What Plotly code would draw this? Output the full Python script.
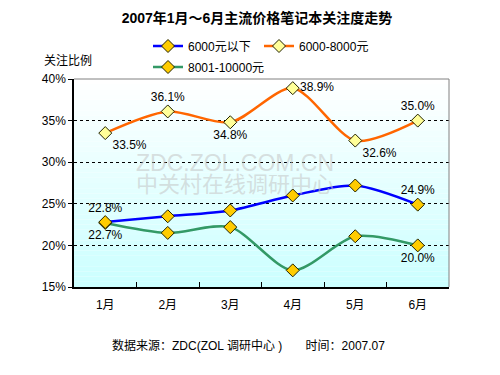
import plotly.graph_objects as go

months = ["1月", "2月", "3月", "4月", "5月", "6月"]
s_low = [22.8, 23.5, 24.2, 26.0, 27.2, 24.9]
s_mid = [33.5, 36.1, 34.8, 38.9, 32.6, 35.0]
s_high = [22.7, 21.5, 22.2, 17.0, 21.1, 20.0]
name_low = "6000元以下"
name_mid = "6000-8000元"
name_high = "8001-10000元"

lab_low = ["22.8%", "", "", "", "", "24.9%"]
pos_low = ["top center"] * 6
lab_mid = [f"{v:.1f}%" for v in s_mid]
pos_mid = ["bottom right", "top center", "bottom center", "middle right", "bottom right", "top center"]
lab_high = ["22.7%", "", "", "", "", "20.0%"]
pos_high = ["bottom center"] * 6

FONT = "Arial, 'Noto Sans CJK SC', sans-serif"
OFF = 8  # page body margin in the browser
W, H = 500, 375

fig = go.Figure()

def add(y, name, color, mfill, labels, pos, legend):
    fig.add_trace(go.Scatter(
        x=months, y=y, name=name, mode="lines+markers+text",
        line=dict(color=color, width=2.5, shape="spline", smoothing=0.8),
        marker=dict(symbol="diamond", size=10, color=mfill, line=dict(color="#222200", width=1)),
        text=labels, textposition=pos, textfont=dict(size=12, color="black", family=FONT),
        legend=legend, cliponaxis=False,
    ))

add(s_high, name_high, "#339966", "#FFCC00", lab_high, pos_high, "legend2")
add(s_low, name_low, "#0000FF", "#FFCC00", lab_low, pos_low, "legend")
add(s_mid, name_mid, "#FF6600", "#FFFF99", lab_mid, pos_mid, "legend")

# gradient background
n = 40
for i in range(n):
    t = i / (n - 1)
    r = int(255 + (204 - 255) * t)
    fig.add_shape(type="rect", xref="x domain", yref="y domain",
                  x0=0, x1=1, y0=1 - (i + 1) / n, y1=1 - i / n,
                  fillcolor=f"rgb({r},255,255)", line=dict(width=0), layer="below")

fig.update_layout(
    width=W, height=H,
    margin=dict(l=74 - OFF, r=W - (74 - OFF) - 375, t=79 - OFF, b=H - (79 - OFF) - 208, autoexpand=False),
    paper_bgcolor="white", plot_bgcolor="rgba(0,0,0,0)",
    font=dict(family=FONT, size=12, color="black"),
    title=dict(text="<b>2007年1月～6月主流价格笔记本关注度走势</b>",
               x=(257 - OFF) / W, xanchor="center", xref="container", yref="container",
               y=1 - (18 - OFF) / H, yanchor="middle", font=dict(size=14, color="black")),
    legend=dict(orientation="h", x=(148 - OFF) / W, y=1 - (46 - OFF) / H,
                xref="container", yref="container", xanchor="left", yanchor="middle",
                font=dict(size=12), bgcolor="rgba(0,0,0,0)", itemwidth=30, entrywidth=66),
    legend2=dict(orientation="h", x=(148 - OFF) / W, y=1 - (67 - OFF) / H,
                 xref="container", yref="container", xanchor="left", yanchor="middle",
                 font=dict(size=12), bgcolor="rgba(0,0,0,0)", itemwidth=30),
    showlegend=True,
)

fig.update_yaxes(range=[15, 40], dtick=5, ticksuffix="%", showgrid=True,
                 gridcolor="black", griddash="3px,3px", gridwidth=1,
                 showline=True, linecolor="black", linewidth=1.5, mirror=False,
                 ticks="outside", ticklen=4, tickcolor="black", zeroline=False,
                 tickfont=dict(size=12))
fig.update_xaxes(showline=True, linecolor="black", linewidth=1.5, ticks="inside",
                 tickson="boundaries", ticklen=5, tickcolor="black", showgrid=False,
                 tickfont=dict(size=12), range=[-0.5, 5.5], ticklabelstandoff=6)

# top and right border
fig.add_shape(type="line", xref="x domain", yref="y domain", x0=0, x1=1, y0=1, y1=1,
              line=dict(color="#808080", width=1))
fig.add_shape(type="line", xref="x domain", yref="y domain", x0=1, x1=1, y0=0, y1=1,
              line=dict(color="#808080", width=1))

# watermark
fig.add_annotation(text="ZDC.ZOL.COM.CN", xref="paper", yref="paper", x=0.43, y=0.595,
                   showarrow=False, font=dict(size=23, color="rgba(195,195,195,0.55)", family=FONT))
fig.add_annotation(text="中关村在线调研中心", xref="paper", yref="paper", x=0.43, y=0.495,
                   showarrow=False, font=dict(size=22, color="rgba(195,195,195,0.55)", family=FONT))

fig.add_annotation(text="关注比例", xref="paper", yref="paper", x=(42 - 74) / 375, y=(287 - 60) / 208,
                   xanchor="left", yanchor="middle", showarrow=False, font=dict(size=12))
fig.add_annotation(text="数据来源：ZDC(ZOL 调研中心 )&nbsp;&nbsp;&nbsp;&nbsp;&nbsp;&nbsp;&nbsp;时间：2007.07",
                   xref="paper", yref="paper",
                   x=(110 - 74) / 375, y=-(345 - 287) / 208, xanchor="left", yanchor="middle",
                   showarrow=False, font=dict(size=12))

fig.write_html("out.html")
